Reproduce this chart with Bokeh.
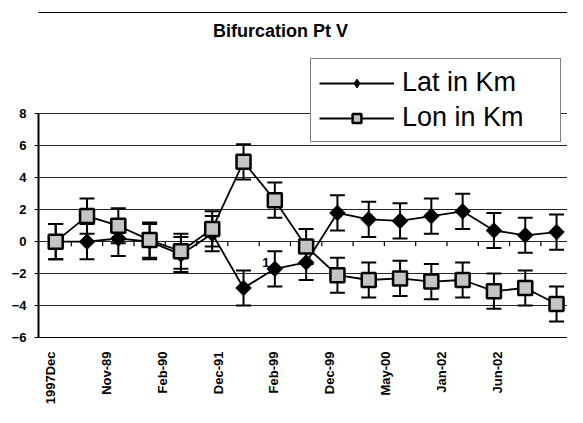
import math
from bokeh.plotting import figure
from bokeh.models import (ColumnDataSource, Whisker, TeeHead, FixedTicker, Label,
                          LinearAxis, Legend, LegendItem)
from bokeh.core.properties import value
from bokeh.embed import file_html
from bokeh.resources import INLINE

# ---------------- data ----------------
title_text = "Bifurcation Pt V"
series_names = ["Lat in Km", "Lon in Km"]
tick_labels = ["1997Dec", "Nov-89", "Feb-90", "Dec-91", "Feb-99",
               "Dec-99", "May-00", "Jan-02", "Jun-02"]
lat_km = [0.0, 0.0, 0.2, 0.0, -0.8, 0.5, -2.9, -1.7, -1.3,
          1.8, 1.4, 1.3, 1.6, 1.9, 0.7, 0.4, 0.6]
lon_km = [0.0, 1.6, 1.0, 0.1, -0.6, 0.8, 5.0, 2.6, -0.3,
          -2.1, -2.4, -2.3, -2.5, -2.4, -3.1, -2.9, -3.9]
err_km = 1.1
y_ticks = [-6, -4, -2, 0, 2, 4, 6, 8]
note_text = ["1"]
note_idx = 7

# ---------------- layout / style ----------------
FONT = "Liberation Sans"
n = len(lat_km)
xs = list(range(n))
label_start, label_step = -0.17, 1.785
label_pos = [label_start + label_step * k for k in range(len(tick_labels))]
y_lo, y_hi = y_ticks[0], y_ticks[-1]

src = ColumnDataSource(dict(
    x=xs, lat=lat_km, lon=lon_km,
    lat_hi=[v + err_km for v in lat_km], lat_lo=[v - err_km for v in lat_km],
    lon_hi=[v + err_km for v in lon_km], lon_lo=[v - err_km for v in lon_km],
))

p = figure(width=567, height=407, output_backend="svg", toolbar_location=None,
           x_range=(-0.55, 16.35), y_range=(y_lo, 14.35),
           min_border_left=38, min_border_right=0,
           min_border_top=12, min_border_bottom=67)
p.background_fill_color = "white"
p.border_fill_color = "white"
p.outline_line_color = None

# grid
p.xgrid.visible = False
p.ygrid.ticker = FixedTicker(ticks=y_ticks)
p.ygrid.grid_line_color = "black"
p.ygrid.grid_line_width = 1
p.ygrid.grid_line_alpha = 0.85

# y axis
yax = p.left[0]
yax.ticker = FixedTicker(ticks=y_ticks)
yax.bounds = (y_lo, y_hi)
yax.axis_line_width = 2
yax.axis_line_color = "black"
yax.major_tick_out = 4
yax.major_tick_in = 0
yax.minor_tick_line_color = None
yax.major_label_text_font = FONT
yax.major_label_text_font_style = "bold"
yax.major_label_text_font_size = "13px"
yax.major_label_text_color = "black"
yax.major_label_standoff = 8

# x axis (categories)
xax = p.below[0]
xax.ticker = FixedTicker(ticks=label_pos)
xax.major_label_overrides = {pos: lab for pos, lab in zip(label_pos, tick_labels)}
xax.major_label_orientation = math.pi / 2
xax.axis_line_color = "black"
xax.axis_line_width = 1
xax.major_tick_line_color = None
xax.minor_tick_line_color = None
xax.major_label_text_font = FONT
xax.major_label_text_font_style = "bold"
xax.major_label_text_font_size = "13px"
xax.major_label_text_color = "black"
xax.major_label_standoff = 8

def line_only_axis(**kw):
    return LinearAxis(ticker=FixedTicker(ticks=[]),
                      axis_line_color="black", axis_line_width=1,
                      major_tick_line_color=None, minor_tick_line_color=None,
                      major_label_text_font_size="0px", major_label_standoff=0, **kw)

# right border of the plot area, top border of the chart
p.add_layout(line_only_axis(bounds=(y_lo, y_hi)), "right")
p.add_layout(line_only_axis(), "above")

# category-boundary ticks on the zero line
bx = [i + 0.5 for i in range(n - 1)]
p.segment(x0=bx, y0=[0] * len(bx), x1=bx, y1=[-0.28] * len(bx),
          line_color="black", line_width=1.2)

# error bars
for hi, lo in (("lat_hi", "lat_lo"), ("lon_hi", "lon_lo")):
    w = Whisker(source=src, base="x", upper=hi, lower=lo,
                line_color="black", line_width=2,
                upper_head=TeeHead(size=15, line_width=2, line_color="black"),
                lower_head=TeeHead(size=15, line_width=2, line_color="black"))
    p.add_layout(w)

# series
lat_line = p.line("x", "lat", source=src, line_color="black", line_width=1.8)
lon_line = p.line("x", "lon", source=src, line_color="black", line_width=1.8)
p.scatter("x", "lat", source=src, marker="square", angle=math.pi / 4, size=11,
          fill_color="black", line_color="black", line_width=1)
lon_pts = p.scatter("x", "lon", source=src, marker="square", size=14,
                    fill_color="#c4c4c4", line_color="black", line_width=2.5)
# hidden diamond renderer used only as the legend swatch
lat_swatch = p.scatter("x", "lat", source=src, marker="diamond", size=17,
                       fill_color="black", line_color="black", line_width=1,
                       visible=False)

# stray data label
p.text(x=[note_idx], y=[lat_km[note_idx]], text=note_text, x_offset=-9, y_offset=-6,
       text_font=value(FONT), text_font_style="bold", text_font_size="13px",
       text_align="center", text_baseline="middle", text_color="black")

# title (positioned relative to the frame)
p.add_layout(Label(x=242, y=307, x_units="screen", y_units="screen",
                   text=title_text, text_font=FONT, text_font_style="bold",
                   text_font_size="18px", text_align="center",
                   text_baseline="middle", text_color="black"))

# legend
lg = Legend(items=[LegendItem(label=series_names[0], renderers=[lat_line, lat_swatch]),
                   LegendItem(label=series_names[1], renderers=[lon_line, lon_pts])])
lg.location = (272, 195)
lg.label_text_font = FONT
lg.label_text_font_size = "27px"
lg.label_text_color = "black"
lg.glyph_width = 75
lg.glyph_height = 22
lg.label_standoff = 8
lg.label_width = 150
lg.padding = 8
lg.spacing = 4
lg.margin = 0
lg.border_line_color = "black"
lg.border_line_width = 1
lg.background_fill_color = "white"
lg.background_fill_alpha = 1.0
lg.inactive_fill_alpha = 0.0
p.add_layout(lg)

open("out.html", "w").write(file_html(p, INLINE))
